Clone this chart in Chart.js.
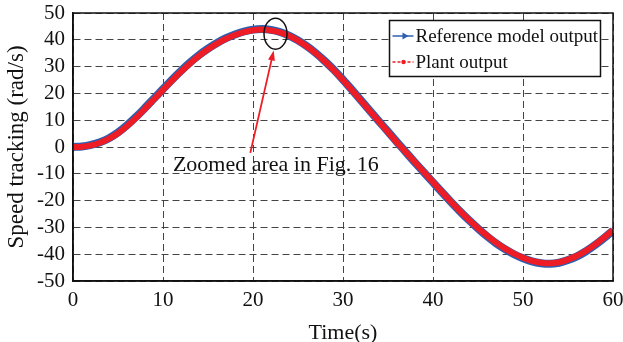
<!DOCTYPE html>
<html lang="en">
<head>
<meta charset="UTF-8">
<title>Speed tracking</title>
<script src="https://cdn.jsdelivr.net/npm/chart.js"></script>
<style>
  html, body { margin: 0; padding: 0; background: #fff; }
  #wrap { width: 623px; height: 342px; }
</style>
</head>
<body>
<div id="wrap"><canvas id="speedChart" width="623" height="342"></canvas></div>
<script>
// time in seconds, one sample per second
const timeSec = [
  0, 1, 2, 3, 4, 5, 6, 7, 8, 9, 10, 11, 12, 13, 14, 15, 16, 17, 18, 19, 20,
  21, 22, 23, 24, 25, 26, 27, 28, 29, 30, 31, 32, 33, 34, 35, 36, 37, 38, 39, 40,
  41, 42, 43, 44, 45, 46, 47, 48, 49, 50, 51, 52, 53, 54, 55, 56, 57, 58, 59, 60
];
// speed, rad/s
const referenceOutput = [
  0, 0.2, 0.8, 1.8, 3.3, 5.4, 8.1, 11.2, 14.6, 18.1, 21.6, 25.1, 28.4, 31.5, 34.3, 36.7, 38.8, 40.6, 42.0, 43.1, 43.8,
  44.0, 43.7, 42.9, 41.6, 39.8, 37.6, 35.0, 32.0, 28.7, 25.1, 21.3, 17.4, 13.5, 9.6, 5.7, 1.8, -2.0, -5.8, -9.5, -13.2,
  -16.9, -20.5, -24.0, -27.3, -30.4, -33.3, -35.9, -38.1, -40.0, -41.5, -42.7, -43.4, -43.6, -43.2, -42.2, -40.8, -38.9, -36.6, -34.0, -31.2
];
const plantOutput = [
  0, 0.1, 0.6, 1.6, 3.1, 5.1, 7.8, 10.9, 14.3, 17.8, 21.3, 24.8, 28.1, 31.2, 34.0, 36.5, 38.6, 40.4, 41.8, 42.9, 43.6,
  43.8, 43.5, 42.8, 41.5, 39.7, 37.5, 34.9, 31.9, 28.6, 25.0, 21.2, 17.3, 13.4, 9.5, 5.6, 1.7, -2.0, -5.7, -9.4, -13.1,
  -16.8, -20.4, -23.9, -27.2, -30.3, -33.1, -35.7, -37.9, -39.8, -41.3, -42.5, -43.2, -43.4, -43.0, -42.0, -40.6, -38.7, -36.4, -33.8, -31.0
];
const xTickValues = [0, 10, 20, 30, 40, 50, 60];
const yTickValues = [-50, -40, -30, -20, -10, 0, 10, 20, 30, 40, 50];

const seriesNames = ['Reference model output', 'Plant output'];
const noteText = 'Zoomed area in Fig. 16';
// note anchors in data units (time, speed)
const noteCircle = [22.5, 42.3];
const noteArrowFrom = [19.7, -2.2];
const noteArrowTo = [22.3, 36.0];
const noteTextAt = [11.1, -9.0];

const serif = '"Liberation Serif", "Times New Roman", serif';
const blue = '#2f5eb0';
const red = '#ee1c25';

const toPoints = vals => vals.map((v, i) => ({ x: timeSec[i], y: v }));

// black frame round the plot
const framePlugin = {
  id: 'frame',
  afterDatasetsDraw(chart) {
    const { ctx, chartArea: a } = chart;
    ctx.save();
    ctx.strokeStyle = '#111';
    ctx.lineWidth = 1.5;
    ctx.strokeRect(a.left, a.top, a.right - a.left, a.bottom - a.top);
    ctx.restore();
  }
};

// circle, arrow and caption pointing at the peak
const notePlugin = {
  id: 'note',
  afterDatasetsDraw(chart) {
    const { ctx } = chart;
    const xs = chart.scales.x, ys = chart.scales.y;
    const px = p => [xs.getPixelForValue(p[0]), ys.getPixelForValue(p[1])];
    ctx.save();

    const [cx, cy] = px(noteCircle);
    ctx.strokeStyle = '#111';
    ctx.lineWidth = 1.5;
    ctx.beginPath();
    ctx.ellipse(cx, cy, 11.5, 15.5, 0, 0, Math.PI * 2);
    ctx.stroke();

    const [x0, y0] = px(noteArrowFrom);
    const [x1, y1] = px(noteArrowTo);
    const ang = Math.atan2(y1 - y0, x1 - x0);
    ctx.strokeStyle = red;
    ctx.fillStyle = red;
    ctx.lineWidth = 1.8;
    ctx.beginPath();
    ctx.moveTo(x0, y0);
    ctx.lineTo(x1 - 6 * Math.cos(ang), y1 - 6 * Math.sin(ang));
    ctx.stroke();
    ctx.beginPath();
    ctx.moveTo(x1, y1);
    ctx.lineTo(x1 - 10 * Math.cos(ang) + 3.5 * Math.sin(ang), y1 - 10 * Math.sin(ang) - 3.5 * Math.cos(ang));
    ctx.lineTo(x1 - 10 * Math.cos(ang) - 3.5 * Math.sin(ang), y1 - 10 * Math.sin(ang) + 3.5 * Math.cos(ang));
    ctx.closePath();
    ctx.fill();

    const [tx, ty] = px(noteTextAt);
    ctx.fillStyle = '#111';
    ctx.font = '22px ' + serif;
    ctx.textAlign = 'left';
    ctx.textBaseline = 'alphabetic';
    ctx.fillText(noteText, tx, ty);
    ctx.restore();
  }
};

// boxed legend in the top right corner
const legendBoxPlugin = {
  id: 'legendBox',
  afterDraw(chart) {
    const { ctx, chartArea: a } = chart;
    const left = a.right - 223.5, top = a.top + 7.5, w = 211, h = 56;
    ctx.save();
    ctx.fillStyle = '#fff';
    ctx.fillRect(left, top, w, h);
    ctx.strokeStyle = '#111';
    ctx.lineWidth = 1.5;
    ctx.strokeRect(left, top, w, h);

    const rows = [top + 15.5, top + 41.5];
    // reference: solid line with arrow marker
    ctx.strokeStyle = blue;
    ctx.fillStyle = blue;
    ctx.lineWidth = 1.5;
    ctx.beginPath();
    ctx.moveTo(left + 3, rows[0]);
    ctx.lineTo(left + 24, rows[0]);
    ctx.stroke();
    ctx.beginPath();
    ctx.moveTo(left + 19, rows[0]);
    ctx.lineTo(left + 13, rows[0] - 3.5);
    ctx.lineTo(left + 13, rows[0] + 3.5);
    ctx.closePath();
    ctx.fill();
    // plant: dashed line with dot marker
    ctx.strokeStyle = red;
    ctx.fillStyle = red;
    ctx.setLineDash([3, 2]);
    ctx.beginPath();
    ctx.moveTo(left + 3, rows[1]);
    ctx.lineTo(left + 24, rows[1]);
    ctx.stroke();
    ctx.setLineDash([]);
    ctx.beginPath();
    ctx.arc(left + 14, rows[1], 2.2, 0, Math.PI * 2);
    ctx.fill();

    ctx.fillStyle = '#111';
    ctx.font = '19px ' + serif;
    ctx.textBaseline = 'middle';
    ctx.textAlign = 'left';
    seriesNames.forEach((n, i) => ctx.fillText(n, left + 26, rows[i] + 1));
    ctx.restore();
  }
};

new Chart(document.getElementById('speedChart'), {
  type: 'line',
  data: {
    datasets: [
      {
        label: seriesNames[0],
        data: toPoints(referenceOutput),
        borderColor: blue,
        borderWidth: 8,
        pointRadius: 0,
        cubicInterpolationMode: 'monotone',
        order: 1
      },
      {
        label: seriesNames[1],
        data: toPoints(plantOutput),
        borderColor: red,
        borderWidth: 6,
        pointRadius: 0,
        cubicInterpolationMode: 'monotone',
        order: 0
      }
    ]
  },
  options: {
    responsive: false,
    animation: false,
    devicePixelRatio: 1,
    layout: { padding: { top: 13, right: 10, left: 0, bottom: 0 } },
    plugins: { legend: { display: false }, tooltip: { enabled: false } },
    scales: {
      x: {
        type: 'linear',
        min: 0,
        max: 60,
        afterBuildTicks: s => { s.ticks = xTickValues.map(v => ({ value: v })); },
        afterFit: s => { s.height = 61; s.paddingLeft = 0; s.paddingRight = 0; },
        ticks: { color: '#111', font: { family: serif, size: 21 }, padding: 7, maxRotation: 0, autoSkip: false },
        grid: { color: '#444', lineWidth: 1, drawTicks: false },
        border: { display: true, color: '#111', width: 1.5, dash: [7, 4] },
        title: {
          display: true,
          text: 'Time(s)',
          color: '#111',
          font: { family: serif, size: 22, lineHeight: 0.8 },
          padding: { top: 0, bottom: 0 }
        }
      },
      y: {
        type: 'linear',
        min: -50,
        max: 50,
        afterBuildTicks: s => { s.ticks = yTickValues.map(v => ({ value: v })); },
        afterFit: s => { s.width = 73; s.paddingTop = 0; s.paddingBottom = 0; },
        ticks: { color: '#111', font: { family: serif, size: 21 }, padding: 8, autoSkip: false },
        grid: { color: '#444', lineWidth: 1, drawTicks: false },
        border: { display: true, color: '#111', width: 1.5, dash: [7, 4] },
        title: {
          display: true,
          text: 'Speed tracking (rad/s)',
          color: '#111',
          font: { family: serif, size: 23, lineHeight: 1.2 },
          padding: { top: 3, bottom: 0 }
        }
      }
    }
  },
  plugins: [framePlugin, notePlugin, legendBoxPlugin]
});
</script>
</body>
</html>
